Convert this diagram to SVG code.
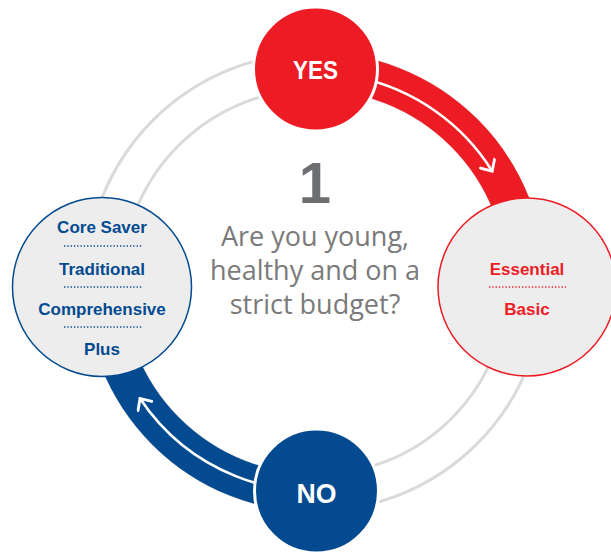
<svg xmlns="http://www.w3.org/2000/svg" width="611" height="552" viewBox="0 0 611 552">
  <style>
    .ring { fill: none; stroke: #dadada; stroke-width: 3; }
    .band { fill: none; stroke-width: 38; }
    .flow { fill: none; stroke: #ffffff; stroke-width: 2.6; marker-end: url(#chevron); }
    .lbl { font-family: "Liberation Sans", Arial, sans-serif; font-weight: bold; text-anchor: middle; }
    .q { font-family: "Open Sans", "Liberation Sans", sans-serif; fill: #7a7a7a; text-anchor: middle; font-size: 27px; }
    .dots { stroke-width: 1.3; stroke-dasharray: 1.3 2; }
  </style>
  <defs>
    <marker id="chevron" viewBox="0 0 16 16" refX="9" refY="8" markerWidth="19" markerHeight="19" markerUnits="userSpaceOnUse" orient="auto">
      <path d="M1.5,1 L9,8 L1.5,15" fill="none" stroke="#ffffff" stroke-width="2.4" stroke-linecap="round" stroke-linejoin="miter"/>
    </marker>
  </defs>

  <!-- background cycle rings -->
  <g id="rings">
    <circle class="ring" cx="315" cy="282" r="193"/>
    <circle class="ring" cx="315" cy="282" r="229"/>
  </g>

  <!-- connectors: coloured bands with white flow arrows -->
  <g id="connectors">
    <path class="band" stroke="#ed1c24" d="M315,71 A211,211 0 0 1 526,282"/>
    <path class="band" stroke="#034a90" d="M315,493 A211,211 0 0 1 104,282"/>
    <path class="flow" d="M358.5,77.6 A209,209 0 0 1 492.2,171.2"/>
    <path class="flow" d="M358.5,486.4 A209,209 0 0 1 140,398.5"/>
  </g>

  <!-- question in the middle -->
  <g id="question">
    <text x="315" y="203" font-family="Liberation Sans, Arial, sans-serif" font-weight="bold" font-size="58" fill="#6d6e71" text-anchor="middle">1</text>
    <text class="q" x="315" y="246">Are you young,</text>
    <text class="q" x="315" y="280">healthy and on a</text>
    <text class="q" x="315" y="314">strict budget?</text>
  </g>

  <g id="yes">
    <circle cx="315.5" cy="69" r="62" fill="#ed1c24" stroke="#ffffff" stroke-width="3"/>
    <text class="lbl" x="315.5" y="79" font-size="26" fill="#ffffff" textLength="45" lengthAdjust="spacingAndGlyphs">YES</text>
  </g>

  <g id="essential-basic">
    <circle cx="527" cy="287" r="89" fill="#ededed" stroke="#ed1c24" stroke-width="1.5"/>
    <text class="lbl" x="527" y="275" font-size="17" fill="#ed1c24">Essential</text>
    <line class="dots" x1="489" y1="287" x2="566" y2="287" stroke="#ed1c24"/>
    <text class="lbl" x="527" y="315" font-size="17" fill="#ed1c24">Basic</text>
  </g>

  <g id="no">
    <circle cx="316.5" cy="491" r="62" fill="#034a90" stroke="#ffffff" stroke-width="3"/>
    <text class="lbl" x="316.5" y="503" font-size="27" fill="#ffffff" textLength="40" lengthAdjust="spacingAndGlyphs">NO</text>
  </g>

  <g id="plans">
    <circle cx="102" cy="287" r="89.5" fill="#ededed" stroke="#034a90" stroke-width="1.5"/>
    <text class="lbl" x="102" y="233" font-size="17" fill="#034a90">Core Saver</text>
    <line class="dots" x1="64" y1="246" x2="142" y2="246" stroke="#034a90"/>
    <text class="lbl" x="102" y="275" font-size="17" fill="#034a90">Traditional</text>
    <line class="dots" x1="64" y1="287" x2="142" y2="287" stroke="#034a90"/>
    <text class="lbl" x="102" y="315" font-size="17" fill="#034a90">Comprehensive</text>
    <line class="dots" x1="64" y1="327" x2="142" y2="327" stroke="#034a90"/>
    <text class="lbl" x="102" y="355" font-size="17" fill="#034a90">Plus</text>
  </g>
</svg>
